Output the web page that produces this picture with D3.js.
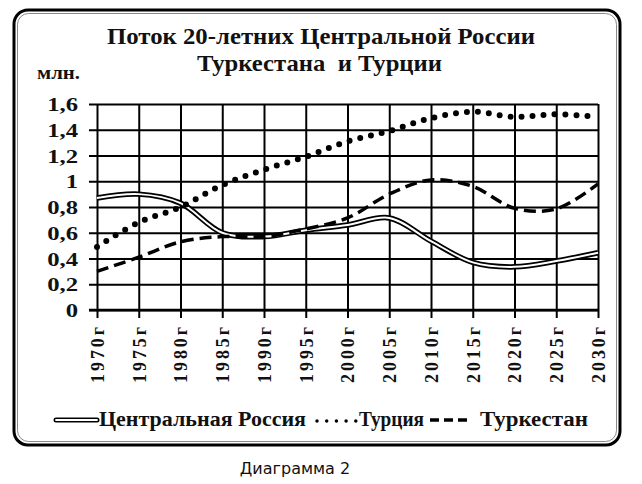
<!DOCTYPE html>
<html>
<head>
<meta charset="utf-8">
<script src="https://cdn.jsdelivr.net/npm/d3@7"></script>
<style>
  body { margin: 0; background: #fff; }
  text { font-family: "Liberation Serif", "Times New Roman", serif; font-weight: bold; fill: #111; }
</style>
</head>
<body>
<div id="chart"></div>
<script>
(function() {
  var W = 642, H = 484;
  var margin = { top: 104, left: 97, right: 44, bottom: 174 },
    width = W - margin.left - margin.right,
    height = H - margin.top - margin.bottom;

  // data, per 5 years
  var years = [1970, 1975, 1980, 1985, 1990, 1995, 2000, 2005, 2010, 2015, 2020, 2025, 2030];
  var yTicks = [0, 0.2, 0.4, 0.6, 0.8, 1, 1.2, 1.4, 1.6];
  var russia = [0.87, 0.9, 0.83, 0.6, 0.57, 0.62, 0.66, 0.715, 0.535, 0.37, 0.335, 0.38, 0.445];
  var turkey = [0.49, 0.68, 0.8, 0.97, 1.09, 1.19, 1.31, 1.39, 1.49, 1.54, 1.5, 1.52, 1.5];
  var turkestan = [0.3, 0.41, 0.53, 0.57, 0.57, 0.63, 0.715, 0.9, 1.01, 0.96, 0.79, 0.785, 0.98];

  var serif = "'Liberation Serif', 'Times New Roman', serif";

  var svg = d3.select("#chart").append("svg")
    .attr("width", W).attr("height", H);

  // frame
  svg.append("rect")
    .attr("x", 14).attr("y", 10).attr("width", 606).attr("height", 435)
    .attr("rx", 14)
    .attr("fill", "#fff").attr("stroke", "#000").attr("stroke-width", 3);
  svg.append("rect")
    .attr("x", 17.5).attr("y", 13.5).attr("width", 599).attr("height", 428)
    .attr("rx", 11)
    .attr("fill", "none").attr("stroke", "#888").attr("stroke-width", 1);

  // stretched label helper (glyphs in the original look wide)
  function stretched(sel, x, y, len, size, txt) {
    return sel.append("text").attr("x", x).attr("y", y)
      .attr("textLength", len).attr("lengthAdjust", "spacingAndGlyphs")
      .style("font-family", serif).style("font-weight", "bold")
      .style("font-size", size + "px").style("white-space", "pre").text(txt);
  }

  // titles
  stretched(svg, 107, 44, 428, 24, "Поток 20-летних Центральной России");
  stretched(svg, 197, 71, 245, 24, "Туркестана  и Турции");
  stretched(svg, 37, 79, 43, 18, "млн.");

  var g = svg.append("g")
    .attr("transform", "translate(" + margin.left + "," + margin.top + ")");

  var x = d3.scalePoint().domain(years).range([0, width]);
  var y = d3.scaleLinear().domain([0, 1.6]).range([206, 0]);

  // horizontal grid + y labels
  var yAxis = d3.axisLeft(y).tickValues(yTicks)
    .tickSize(-width).tickSizeOuter(0)
    .tickFormat(function(d) { return d3.format(".1f")(d).replace(".", ",").replace(/,0$/, ""); });
  var ya = g.append("g").call(yAxis);
  ya.select(".domain").remove();
  ya.selectAll("line").attr("x1", -8).attr("stroke", "#000").attr("stroke-width", 2);
  ya.selectAll("text").attr("x", -19).attr("dy", "0.35em")
    .attr("fill", "#111")
    .style("font-size", "19px")
    .style("font-family", serif).style("font-weight", "bold")
    .each(function() {
      var len = this.getComputedTextLength();
      d3.select(this).attr("textLength", len * 1.3).attr("lengthAdjust", "spacingAndGlyphs");
    });

  // vertical grid + x labels
  var xAxis = d3.axisBottom(x).tickSize(0).tickFormat(function(d) { return d + "г"; });
  var xa = g.append("g").attr("transform", "translate(0," + y(0) + ")").call(xAxis);
  xa.select(".domain").remove();
  xa.selectAll("line").attr("y1", 8).attr("y2", -y(0) + y(1.6)).attr("stroke", "#000").attr("stroke-width", 2);
  xa.selectAll("text")
    .attr("transform", "rotate(-90)")
    .attr("x", -17).attr("y", 0).attr("dy", "0.35em")
    .attr("text-anchor", "end").attr("fill", "#111")
    .attr("textLength", 56).attr("lengthAdjust", "spacing")
    .style("font-size", "18px")
    .style("font-family", serif).style("font-weight", "bold");

  // zero line a bit heavier
  g.append("line").attr("x1", -8).attr("x2", width).attr("y1", y(0)).attr("y2", y(0))
    .attr("stroke", "#000").attr("stroke-width", 2.5);

  var line = d3.line()
    .x(function(d, i) { return x(years[i]); })
    .y(function(d) { return y(d); })
    .curve(d3.curveCatmullRom.alpha(0.5));

  // double line for Central Russia
  g.append("path").datum(russia).attr("d", line)
    .attr("fill", "none").attr("stroke", "#000").attr("stroke-width", 5.5);
  g.append("path").datum(russia).attr("d", line)
    .attr("fill", "none").attr("stroke", "#fff").attr("stroke-width", 2);

  g.append("path").datum(turkey).attr("d", line)
    .attr("fill", "none").attr("stroke", "#000").attr("stroke-width", 6)
    .attr("stroke-linecap", "round").attr("stroke-dasharray", "0,11");

  g.append("path").datum(turkestan).attr("d", line)
    .attr("fill", "none").attr("stroke", "#000").attr("stroke-width", 3.5)
    .attr("stroke-dasharray", "12,6");

  // legend
  var ly = 420;
  var leg = svg.append("g");
  leg.append("line").attr("x1", 56).attr("x2", 97).attr("y1", ly).attr("y2", ly)
    .attr("stroke", "#000").attr("stroke-width", 5).attr("stroke-linecap", "round");
  leg.append("line").attr("x1", 56).attr("x2", 97).attr("y1", ly).attr("y2", ly)
    .attr("stroke", "#fff").attr("stroke-width", 1.8).attr("stroke-linecap", "round");
  stretched(leg, 99, ly + 6, 207, 20, "Центральная Россия");

  leg.append("line").attr("x1", 317).attr("x2", 356).attr("y1", ly + 1).attr("y2", ly + 1)
    .attr("stroke", "#000").attr("stroke-width", 3.5).attr("stroke-linecap", "round")
    .attr("stroke-dasharray", "0,9.7");
  stretched(leg, 359, ly + 6, 65, 20, "Турция");

  leg.append("line").attr("x1", 430).attr("x2", 467).attr("y1", ly).attr("y2", ly)
    .attr("stroke", "#000").attr("stroke-width", 3.5).attr("stroke-dasharray", "9,5");
  stretched(leg, 480, ly + 6, 108, 20, "Туркестан");

  svg.append("text").attr("x", 295).attr("y", 474).attr("text-anchor", "middle")
    .style("font-family", "DejaVu Sans, sans-serif").style("font-weight", "normal")
    .style("font-size", "16px").text("Диаграмма 2");
})();
</script>
</body>
</html>
